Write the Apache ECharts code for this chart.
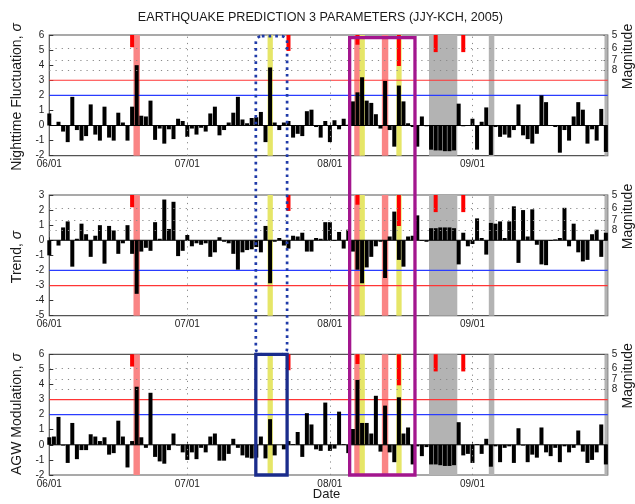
<!DOCTYPE html>
<html><head><meta charset="utf-8">
<script src="https://cdn.jsdelivr.net/npm/echarts@6/dist/echarts.min.js"></script>
<style>html,body{margin:0;padding:0;background:#fff}#c{width:635px;height:504px}</style>
</head><body><div id="c"></div>
<script>
// ---- data (one bar per day, day 0 = 06/01) ----
const nightFluct = [0.8,0.0,0.25,-0.4,-1.1,1.9,-0.3,-1.0,-0.7,1.4,-0.6,-1.0,1.25,-0.8,-1.0,0.85,0.2,-1.0,1.25,4.0,
0.65,0.6,1.65,-0.95,-0.2,-1.2,-0.25,-0.9,0.45,0.3,-0.75,-0.2,-0.6,-0.15,-0.4,0.8,1.25,-0.65,-0.3,0.2,
0.85,1.9,0.4,0.15,0.5,0.55,0.9,-1.1,3.85,0.2,-0.3,0.2,0.3,-0.8,-0.55,-0.7,0.95,1.05,-0.1,-0.8,
0.3,-1.1,0.35,-0.25,0.45,0.05,1.6,2.2,3.2,1.65,1.5,0.75,-0.2,2.95,-0.3,-1.4,2.65,1.6,0.15,-0.1,
-1.4,0.6,-0.05,-1.6,-1.65,-1.65,-1.7,-1.7,-1.65,1.45,-0.05,0.0,0.45,-1.6,0.25,1.2,-1.95,-0.1,-0.75,-0.6,
-0.8,-0.3,1.4,-0.65,-0.9,-1.2,-0.55,2.0,1.55,0.0,-0.1,-1.8,-0.3,-1.0,0.6,1.55,1.05,-1.2,-0.25,-1.0,
1.1,-1.75];
const trend = [-1.0,0.0,-0.35,0.85,1.25,-1.75,0.1,1.1,0.4,-1.1,0.3,1.0,-1.55,0.95,0.65,-0.9,-0.2,1.0,-0.9,-3.55,
-0.75,-0.5,-0.7,1.2,0.1,2.7,0.75,2.55,-1.05,-0.7,0.35,-0.4,-0.2,-0.3,-0.2,-1.1,-0.8,0.2,-0.1,-0.2,
-0.9,-1.95,-0.8,-0.65,-0.6,-0.45,-0.8,0.95,-2.85,-0.1,0.15,-0.35,-0.55,0.3,0.25,0.5,-0.75,-0.75,0.15,0.1,
1.2,1.2,-0.05,0.55,-0.55,0.7,-0.75,-1.95,-2.85,-1.8,-1.1,-0.4,-0.1,-2.5,0.25,1.9,-1.3,-1.75,0.25,0.3,
1.65,-0.05,-0.1,0.8,0.8,0.85,0.85,0.85,0.8,-1.6,0.5,-0.4,-0.25,1.45,0.15,-0.95,1.15,1.1,1.25,0.15,
1.25,2.25,-1.5,2.0,0.25,2.05,-0.3,-1.6,-1.65,-0.05,0.05,0.15,2.15,-0.4,1.1,-0.8,-1.4,-1.3,0.4,0.7,
-1.1,0.5];
const agw = [0.5,0.55,1.85,-0.05,-1.2,1.45,-0.95,-0.35,-0.35,0.7,0.55,0.25,0.5,-0.65,-0.55,1.6,0.55,-1.5,0.25,3.85,
0.5,-0.2,3.45,-0.8,-1.1,-1.25,-0.35,0.75,-0.05,-0.5,-1.0,-0.5,-0.95,-0.2,-0.5,0.55,0.75,-1.05,-1.05,-0.6,
0.4,-0.2,-0.7,-0.85,-0.9,-0.85,0.55,-0.9,1.7,-0.7,0.0,-0.3,0.25,0.05,0.85,-0.8,2.1,1.35,-0.3,-0.4,
2.8,-0.4,-0.25,2.2,0.05,-0.55,1.05,4.3,1.45,1.45,0.75,3.25,-0.45,2.6,-0.5,-1.15,3.15,0.75,1.15,-1.3,
-0.1,-0.75,-0.15,-1.3,-1.3,-1.35,-1.4,-1.4,-1.35,1.5,-0.7,-0.6,-1.2,0.05,-0.6,0.4,-1.45,-0.1,-1.15,-0.2,
-0.1,-1.2,1.1,-0.05,-1.15,-0.65,-0.85,1.15,-0.5,-0.75,-0.2,-1.15,-0.1,-0.5,-0.2,0.95,-0.45,-1.2,-1.0,-0.5,
1.35,-1.3];
const quakeDays = [18, 52, 67, 76, 84, 90];
const quakeMag  = [5.9, 6.2, 5.7, 7.6, 6.3, 6.3];
const salmonDays = [19, 67, 73];
const yellowDays = [48, 68, 76];
const greyBands = [[82.55, 88.7], [95.55, 96.75], [120.7, 121.6]];
const monthTicks = [0, 30, 61, 92];
const monthLabels = ['06/01', '07/01', '08/01', '09/01'];
const magTicks = [5, 6, 7, 8];
const magGrid = [6, 7, 8];
const panelNames = ['Nighttime Fluctuation, ', 'Trend, ', 'AGW Modulation, '];
const panelRanges = [[-2, 6], [-5, 3], [-2, 6]];
const redThreshold = [3, -3, 3];
const blueThreshold = [2, -2, 2];
const dayRange = [0, 121.4];
// annotation boxes in data space: [dayFrom, dayTo, topValue, bottomValue]
const purpleBox = [65.3, 79.5, 5.82, -2.0];   // panel1 -> panel3
const blueDotted = [44.9, 51.7, 5.93, 6.0];   // panel1 top -> panel3 top
const blueSolid = [44.9, 51.7, 6.0, -2.0];    // inside panel 3

const FONT = 'Liberation Sans, Arial, sans-serif';
const panels = [nightFluct, trend, agw];
const tops = [35, 195, 354.3];
const G = {left: 49.3, width: 558.4, height: 120.7};

const chart = echarts.init(document.getElementById('c'), null, {renderer: 'canvas'});

const grid = tops.map(t => ({left: G.left, top: t, width: G.width, height: G.height,
  show: true, borderColor: '#555', borderWidth: 1.2, backgroundColor: 'transparent'}));

const xAxis = tops.map((t, i) => ({
  type: 'value', gridIndex: i, min: dayRange[0], max: dayRange[1],
  axisLine: {show: false},
  axisTick: {show: true, inside: true, length: 3, customValues: monthTicks, lineStyle: {color: '#333'}},
  axisLabel: {customValues: monthTicks, fontSize: 10, color: '#222', margin: 4, fontFamily: FONT,
    formatter: v => monthLabels[monthTicks.indexOf(v)] || ''},
  splitLine: {show: false}
}));

const yAxis = [];
panelRanges.forEach((r, i) => yAxis.push({
  type: 'value', gridIndex: i, min: r[0], max: r[1], interval: 1, position: 'left',
  axisLine: {show: false},
  axisTick: {show: true, inside: true, length: 4, lineStyle: {color: '#333'}},
  axisLabel: {fontSize: 10, color: '#222', margin: 5, fontFamily: FONT},
  splitLine: {show: false}
}));
panelRanges.forEach((r, i) => yAxis.push({
  type: 'log', logBase: 10, gridIndex: i, min: 5, max: 25.5, inverse: true, position: 'right',
  axisLine: {show: false},
  axisTick: {show: true, inside: true, length: 4, customValues: magTicks, lineStyle: {color: '#333'}},
  axisLabel: {customValues: magTicks, fontSize: 10, color: '#222', margin: 4, fontFamily: FONT},
  splitLine: {show: false}
}));

function levelLine(i, yIdx, v, color, width, z) {
  return {type: 'line', xAxisIndex: i, yAxisIndex: yIdx, z: z, silent: true, animation: false,
    symbol: 'none', showSymbol: false, data: [[dayRange[0], v], [dayRange[1], v]],
    itemStyle: {color: color}, lineStyle: {color: color, width: width, type: 'solid'},
    emphasis: {disabled: true}};
}

const series = [];
panels.forEach((vals, i) => {
  series.push({
    type: 'line', xAxisIndex: i, yAxisIndex: i, data: [], z: 1, silent: true,
    markArea: {silent: true, data: [
      ...salmonDays.map(d => [{xAxis: d - 0.7, itemStyle: {color: '#fa8585'}}, {xAxis: d + 0.7}]),
      ...yellowDays.map(d => [{xAxis: d - 0.55, itemStyle: {color: '#e6e668'}}, {xAxis: d + 0.6}]),
      ...greyBands.map(b => [{xAxis: b[0], itemStyle: {color: '#b3b3b3'}}, {xAxis: b[1]}])
    ]},
    markLine: {silent: true, symbol: 'none', label: {show: false}, animation: false,
      lineStyle: {color: '#8a8a8a', type: [1.2, 5], width: 1},
      data: monthTicks.slice(1).map(t => ({xAxis: t}))}
  });
  series.push({
    type: 'line', xAxisIndex: i, yAxisIndex: 3 + i, data: [], z: 1, silent: true,
    markLine: {silent: true, symbol: 'none', label: {show: false}, animation: false,
      lineStyle: {color: '#8a8a8a', type: [1.2, 5], width: 1},
      data: magGrid.map(m => ({yAxis: m}))}
  });
  series.push(levelLine(i, i, redThreshold[i], '#ff3535', 1.2, 2));
  series.push(levelLine(i, i, blueThreshold[i], '#2a3cff', 1.2, 2));
  series.push({
    type: 'bar', xAxisIndex: i, yAxisIndex: i, data: vals.map((v, d) => [d, v]),
    barWidth: 4, barGap: '-100%', itemStyle: {color: '#000'}, z: 3, silent: true, animation: false
  });
  series.push(levelLine(i, i, 0, '#000', 1, 3));
  series.push({
    type: 'bar', xAxisIndex: i, yAxisIndex: 3 + i, data: quakeDays.map((d, k) => [d, quakeMag[k]]),
    barWidth: 4, barGap: '-100%', itemStyle: {color: '#ff0000'}, z: 4, silent: true, animation: false, clip: true
  });
});

const texts = [
  {type: 'text', x: 320.4, y: 17.5, style: {text: 'EARTHQUAKE PREDICTION 3 PARAMETERS (JJY-KCH, 2005)',
    font: '12.6px ' + FONT, fill: '#1a1a1a', align: 'center', verticalAlign: 'middle'}},
  {type: 'text', x: 326.5, y: 494, style: {text: 'Date', font: '13px ' + FONT, fill: '#1a1a1a', align: 'center', verticalAlign: 'middle'}}
];
const nameCenters = [97, 257, 414];
panelNames.forEach((n, i) => {
  texts.push({type: 'text', x: 17, y: nameCenters[i], rotation: Math.PI / 2,
    style: {text: '{n|' + n + '}{s|σ}', align: 'center', verticalAlign: 'middle',
      rich: {n: {font: '14px ' + FONT, fill: '#1a1a1a'}, s: {font: 'italic 14px ' + FONT, fill: '#1a1a1a'}}}});
  texts.push({type: 'text', x: 628, y: tops[i] + 21.5, rotation: Math.PI / 2,
    style: {text: 'Magnitude', font: '14px ' + FONT, fill: '#1a1a1a', align: 'center', verticalAlign: 'middle'}});
});

chart.setOption({animation: false, backgroundColor: '#fff', grid, xAxis, yAxis, series, graphic: texts});

function px(gi, x, y) { return chart.convertToPixel({xAxisIndex: gi, yAxisIndex: gi}, [x, y]); }
const pA = px(0, purpleBox[0], purpleBox[2]), pB = px(2, purpleBox[1], purpleBox[3]);
const dA = px(0, blueDotted[0], blueDotted[2]), dB = px(2, blueDotted[1], blueDotted[3]);
const sA = px(2, blueSolid[0], blueSolid[2]), sB = px(2, blueSolid[1], blueSolid[3]);
const boxes = [
  {type: 'rect', z: 100, shape: {x: dA[0], y: dA[1], width: dB[0] - dA[0], height: dB[1] - dA[1], r: 6},
    style: {fill: 'none', stroke: '#1f3aa8', lineWidth: 2.7, lineDash: [2.7, 4]}},
  {type: 'rect', z: 101, shape: {x: sA[0], y: sA[1], width: sB[0] - sA[0], height: sB[1] - sA[1]},
    style: {fill: 'none', stroke: '#1a2c8c', lineWidth: 3.3}},
  {type: 'rect', z: 102, shape: {x: pA[0], y: pA[1], width: pB[0] - pA[0], height: pB[1] - pA[1]},
    style: {fill: 'none', stroke: '#a3168e', lineWidth: 3.3}}
];
chart.setOption({graphic: texts.concat(boxes)});
</script></body></html>
